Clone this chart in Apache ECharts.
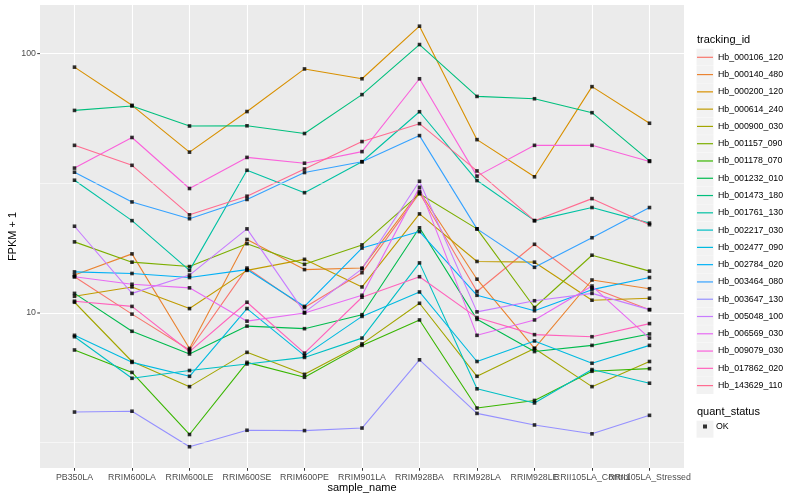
<!DOCTYPE html>
<html><head><meta charset="utf-8">
<script src="https://cdn.jsdelivr.net/npm/echarts@6/dist/echarts.min.js"></script>
<style>html,body{margin:0;padding:0;background:#fff}#c{width:800px;height:500px}</style>
</head><body><div id="c"></div>
<script>
const categories = ['PB350LA','RRIM600LA','RRIM600LE','RRIM600SE','RRIM600PE','RRIM901LA','RRIM928BA','RRIM928LA','RRIM928LE','RRII105LA_Control','RRII105LA_Stressed'];
const trackingIds = ['Hb_000106_120','Hb_000140_480','Hb_000200_120','Hb_000614_240','Hb_000900_030','Hb_001157_090','Hb_001178_070','Hb_001232_010','Hb_001473_180','Hb_001761_130','Hb_002217_030','Hb_002477_090','Hb_002784_020','Hb_003464_080','Hb_003647_130','Hb_005048_100','Hb_006569_030','Hb_009079_030','Hb_017862_020','Hb_143629_110'];
const quantStatus = ['OK'];

const Hb_000106_120 = [13.8, 9.9, 7.2, 14.9, 10.5, 14.3, 29.0, 12.1, 18.4, 12.5, 10.3];
const Hb_000140_480 = [14.0, 16.9, 7.3, 19.2, 14.7, 14.9, 29.4, 13.5, 7.3, 13.4, 12.4];
const Hb_000200_120 = [88.7, 63.2, 41.7, 59.8, 87.3, 80.0, 127.6, 46.6, 33.5, 74.6, 53.9];
const Hb_000614_240 = [11.6, 12.6, 10.4, 14.6, 16.1, 12.6, 24.1, 15.8, 15.7, 11.2, 11.4];
const Hb_000900_030 = [11.0, 6.5, 5.2, 7.05, 5.8, 7.6, 10.9, 5.7, 7.3, 5.2, 6.5];
const Hb_001157_090 = [18.8, 15.7, 15.1, 18.5, 15.4, 18.3, 28.8, 21.1, 10.5, 16.7, 14.5];
const Hb_001178_070 = [7.2, 5.9, 3.4, 6.45, 5.65, 7.5, 9.4, 4.3, 4.6, 5.96, 6.1];
const Hb_001232_010 = [11.9, 8.5, 6.95, 8.9, 8.7, 9.85, 21.3, 9.45, 7.1, 7.5, 8.3];
const Hb_001473_180 = [60.4, 62.8, 52.6, 52.7, 49.2, 69.5, 108.4, 68.4, 67.0, 59.2, 38.6];
const Hb_001761_130 = [32.5, 22.7, 14.6, 35.5, 29.1, 38.3, 59.7, 32.4, 22.7, 25.5, 22.2];
const Hb_002217_030 = [8.1, 5.6, 6.0, 6.36, 6.74, 8.0, 15.6, 5.1, 4.5, 6.05, 5.36];
const Hb_002477_090 = [8.2, 6.45, 5.7, 10.4, 6.85, 9.7, 12.05, 6.5, 7.8, 6.4, 7.5];
const Hb_002784_020 = [14.4, 14.2, 13.7, 14.7, 10.6, 17.8, 20.6, 11.7, 10.2, 12.3, 13.7];
const Hb_003464_080 = [34.9, 26.8, 23.1, 27.4, 34.8, 38.3, 48.3, 21.1, 15.0, 19.5, 25.5];
const Hb_003647_130 = [4.15, 4.18, 3.05, 3.53, 3.52, 3.6, 6.6, 4.1, 3.7, 3.42, 4.03];
const Hb_005048_100 = [21.6, 11.9, 14.0, 21.1, 10.05, 14.8, 32.2, 10.1, 11.15, 11.9, 10.3];
const Hb_006569_030 = [13.8, 12.9, 12.5, 9.3, 10.0, 11.7, 30.5, 8.2, 9.4, 12.7, 8.0];
const Hb_009079_030 = [36.2, 47.5, 30.2, 39.8, 37.8, 41.9, 80.0, 33.7, 44.3, 44.3, 38.4];
const Hb_017862_020 = [11.1, 10.6, 7.1, 11.0, 7.0, 11.5, 13.8, 9.6, 8.25, 8.1, 9.1];
const Hb_143629_110 = [44.3, 37.1, 23.9, 28.2, 35.9, 45.8, 53.7, 35.3, 22.7, 27.6, 21.9];

const yTickValues = [10, 100];
const yMinorBreaks = [3.1623, 31.623];
const yMin = 2.525, yMax = 154;

const seriesValues = [Hb_000106_120, Hb_000140_480, Hb_000200_120, Hb_000614_240, Hb_000900_030, Hb_001157_090, Hb_001178_070, Hb_001232_010, Hb_001473_180, Hb_001761_130, Hb_002217_030, Hb_002477_090, Hb_002784_020, Hb_003464_080, Hb_003647_130, Hb_005048_100, Hb_006569_030, Hb_009079_030, Hb_017862_020, Hb_143629_110];
const palette = ['#F8766D','#EA8331','#D89000','#C09B00','#A3A500','#7CAE00','#39B600','#00BB4E','#00BF7D','#00C1A3','#00BFC4','#00BAE0','#00B0F6','#35A2FF','#9590FF','#C77CFF','#E76BF3','#FA62DB','#FF62BC','#FF6C91'];

const FONT = 'Liberation Sans, Arial, sans-serif';
const catIdx = categories.map((c, i) => i);
const evenIdx = catIdx.filter(i => i % 2 === 0);
const oddIdx = catIdx.filter(i => i % 2 === 1);

const series = [{
  type: 'line', name: '_grid', data: [], z: 1, silent: true,
  markLine: { silent: true, symbol: 'none', animation: false, label: { show: false },
    lineStyle: { color: '#ffffff', width: 0.55, type: 'solid' },
    data: yMinorBreaks.map(v => ({ yAxis: v })) }
}];
trackingIds.forEach((id, k) => {
  series.push({
    type: 'line', name: id, data: seriesValues[k].map((v, i) => [i, v]),
    symbol: 'none', showSymbol: false, color: palette[k], lineStyle: { width: 1.1, color: palette[k] },
    z: 2, silent: true, animation: false
  });
});
const pts = [];
seriesValues.forEach(arr => arr.forEach((v, i) => pts.push([i, v])));
series.push({ type: 'scatter', name: 'OK', data: pts, symbol: 'rect', symbolSize: 3.6,
  itemStyle: { color: '#000' }, z: 5, silent: true, animation: false });

const graphics = [
  { type: 'text', left: 697, top: 34, style: { text: 'tracking_id', font: '11px ' + FONT, fill: '#000' } },
  { type: 'text', left: 697, top: 406, style: { text: 'quant_status', font: '11px ' + FONT, fill: '#000' } }
];
trackingIds.forEach((id, k) => {
  graphics.push({ type: 'rect', z: -1, shape: { x: 696.5, y: 48.7 + k * 17.28, width: 17, height: 17 }, style: { fill: '#F2F2F2' } });
});
graphics.push({ type: 'rect', z: -1, shape: { x: 696.5, y: 420.7, width: 17, height: 17 }, style: { fill: '#F2F2F2' } });

const xLabelBase = { formatter: v => categories[Math.round(v)], fontSize: 8.8, color: '#4D4D4D', fontFamily: FONT, margin: 5, hideOverlap: false, showMinLabel: true, showMaxLabel: true };
const option = {
  backgroundColor: '#fff',
  animation: false,
  grid: { left: 40, top: 5, width: 644, height: 463, show: true, backgroundColor: '#EBEBEB', borderWidth: 0,
    containLabel: false, outerBoundsMode: 'none' },
  xAxis: [{
    type: 'value', min: -0.6, max: 10.6, position: 'bottom',
    name: 'sample_name', nameLocation: 'middle', nameGap: 14, nameMoveOverlap: false,
    nameTextStyle: { fontSize: 11, color: '#000', fontFamily: FONT },
    axisLine: { show: false },
    axisTick: { show: true, customValues: catIdx, length: 2.75, lineStyle: { color: '#333', width: 1 } },
    axisLabel: Object.assign({ customValues: evenIdx }, xLabelBase),
    splitLine: { show: true, lineStyle: { color: '#fff', width: 1.1 } }
  }, {
    type: 'value', min: -0.6, max: 10.6, position: 'bottom', offset: 0,
    axisLine: { show: false }, axisTick: { show: false }, splitLine: { show: false },
    axisLabel: Object.assign({ customValues: oddIdx }, xLabelBase)
  }],
  yAxis: {
    type: 'log', logBase: 10, min: yMin, max: yMax,
    name: 'FPKM + 1', nameLocation: 'middle', nameGap: 22, nameMoveOverlap: false,
    nameTextStyle: { fontSize: 11, color: '#000', fontFamily: FONT },
    axisLine: { show: false },
    axisTick: { show: false, customValues: yTickValues },
    axisLabel: { customValues: yTickValues, formatter: v => String(Math.round(v)), fontSize: 8.8, color: '#4D4D4D', fontFamily: FONT, margin: 4, showMinLabel: true, showMaxLabel: true },
    splitLine: { show: true, lineStyle: { color: '#fff', width: 1.1 } },
    minorSplitLine: { show: false }
  },
  legend: [
    { data: trackingIds.map(n => ({ name: n, icon: 'rect' })), orient: 'vertical', left: 697, top: 50.3, padding: 0,
      itemWidth: 16, itemHeight: 1.2, itemGap: 3.28,
      selectedMode: false, textStyle: { fontSize: 8.8, lineHeight: 14, color: '#000', fontFamily: FONT }, itemStyle: { borderWidth: 0 } },
    { data: [{ name: 'OK', icon: 'rect' }], orient: 'vertical', left: 703, top: 422, padding: 0, itemWidth: 4, itemHeight: 4,
      selectedMode: false, textStyle: { fontSize: 8.8, color: '#000', fontFamily: FONT, padding: [0, 0, 0, 4] }, itemStyle: { color: '#000' } }
  ],
  graphic: graphics,
  series: series
};
const chart = echarts.init(document.getElementById('c'), null, { renderer: 'canvas' });
chart.setOption(option);
// y-axis tick marks, positioned through the axis scale
const gridLeft = chart.convertToPixel({ xAxisIndex: 0 }, -0.6);
const tickMarks = yTickValues.map(v => {
  const py = chart.convertToPixel({ yAxisIndex: 0 }, v);
  return { type: 'line', shape: { x1: gridLeft - 2.75, y1: py, x2: gridLeft, y2: py }, style: { stroke: '#333', lineWidth: 1 }, silent: true };
});
chart.setOption({ graphic: graphics.concat(tickMarks) });
</script></body></html>
